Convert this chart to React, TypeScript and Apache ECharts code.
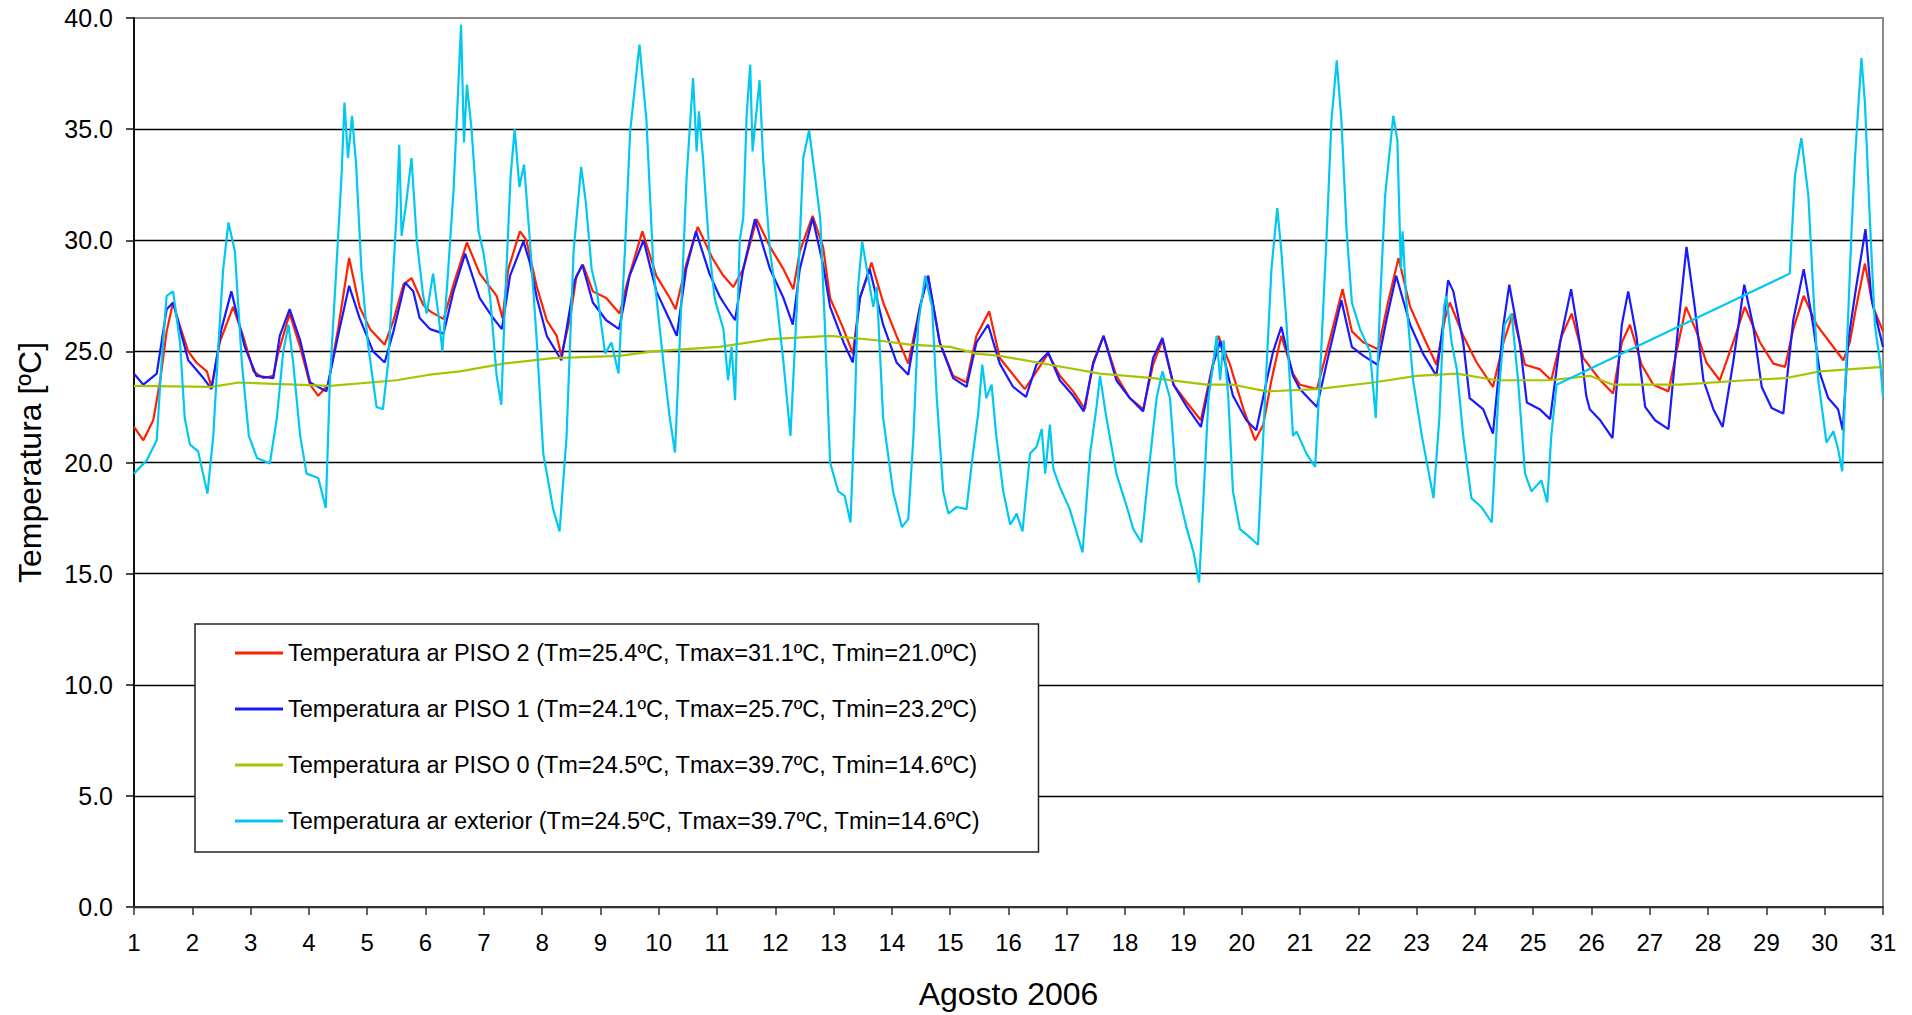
import React, { useEffect, useRef } from "react";
import * as echarts from "echarts";

// Time axis: fractional day of August 2006 (1 = 00:00 on the 1st)
const dayTicks: number[] = Array.from({ length: 31 }, (_, i) => i + 1);

const nomePiso2 = "Temperatura ar PISO 2 (Tm=25.4ºC, Tmax=31.1ºC, Tmin=21.0ºC)";
const nomePiso1 = "Temperatura ar PISO 1 (Tm=24.1ºC, Tmax=25.7ºC, Tmin=23.2ºC)";
const nomePiso0 = "Temperatura ar PISO 0 (Tm=24.5ºC, Tmax=39.7ºC, Tmin=14.6ºC)";
const nomeExterior = "Temperatura ar exterior (Tm=24.5ºC, Tmax=39.7ºC, Tmin=14.6ºC)";

// [day, ºC]
const piso2: [number, number][] = [
  [1.0, 21.6], [1.16, 21.0], [1.33, 21.9], [1.45, 23.7], [1.56, 25.9], [1.67, 27.2], [1.78, 26.2], [1.93, 25.0],
  [2.07, 24.5], [2.25, 24.1], [2.33, 23.4], [2.47, 25.4], [2.7, 27.0], [2.87, 25.7], [3.05, 24.1], [3.22, 23.8],
  [3.39, 23.9], [3.47, 24.9], [3.67, 26.7], [3.85, 25.2], [4.02, 23.5], [4.16, 23.0], [4.33, 23.5], [4.5, 26.0],
  [4.69, 29.2], [4.87, 27.0], [5.05, 26.0], [5.3, 25.3], [5.45, 26.4], [5.62, 28.0], [5.76, 28.3], [5.96, 27.1],
  [6.08, 26.8], [6.31, 26.45], [6.48, 28.0], [6.71, 29.9], [6.93, 28.5], [7.22, 27.5], [7.32, 26.5], [7.42, 28.7],
  [7.62, 30.4], [7.73, 30.0], [7.91, 27.9], [8.08, 26.4], [8.25, 25.7], [8.33, 24.8], [8.48, 26.5], [8.59, 28.4],
  [8.7, 28.9], [8.87, 27.7], [9.1, 27.4], [9.33, 26.7], [9.45, 28.0], [9.72, 30.4], [9.96, 28.4], [10.19, 27.4],
  [10.29, 26.9], [10.47, 28.9], [10.67, 30.6], [10.92, 29.2], [11.11, 28.4], [11.28, 27.9], [11.45, 28.7],
  [11.68, 30.95], [11.91, 29.7], [12.14, 28.7], [12.31, 27.8], [12.42, 29.5], [12.64, 31.1], [12.82, 29.7],
  [12.94, 27.4], [13.17, 26.0], [13.33, 24.9], [13.45, 27.4], [13.65, 29.0], [13.85, 27.2], [14.08, 25.7],
  [14.28, 24.45], [14.48, 27.0], [14.62, 28.4], [14.82, 25.4], [15.05, 23.9], [15.28, 23.6], [15.45, 25.7],
  [15.67, 26.8], [15.85, 24.7], [16.08, 23.95], [16.28, 23.3], [16.43, 23.9], [16.68, 24.9], [16.88, 23.9],
  [17.11, 23.2], [17.31, 22.4], [17.45, 24.5], [17.63, 25.7], [17.85, 23.9], [18.08, 22.9], [18.31, 22.4],
  [18.48, 24.4], [18.64, 25.5], [18.83, 23.5], [19.06, 22.7], [19.3, 21.9], [19.51, 24.5], [19.6, 25.7],
  [19.8, 24.4], [20.03, 22.4], [20.23, 21.0], [20.37, 21.7], [20.51, 23.7], [20.68, 25.7], [20.88, 24.0],
  [21.0, 23.5], [21.29, 23.3], [21.46, 25.0], [21.73, 27.8], [21.89, 25.9], [22.09, 25.4], [22.34, 25.1],
  [22.51, 27.2], [22.69, 29.2], [22.89, 27.0], [23.11, 25.7], [23.34, 24.4], [23.49, 26.5], [23.57, 27.2],
  [23.8, 25.7], [24.03, 24.5], [24.31, 23.4], [24.49, 25.4], [24.65, 26.7], [24.86, 24.4], [25.11, 24.2],
  [25.31, 23.7], [25.49, 25.7], [25.66, 26.7], [25.86, 24.7], [26.15, 23.7], [26.37, 23.1], [26.52, 25.4],
  [26.66, 26.2], [26.86, 24.4], [27.06, 23.5], [27.32, 23.2], [27.46, 25.0], [27.62, 27.0], [27.8, 25.9],
  [27.97, 24.5], [28.2, 23.7], [28.43, 25.4], [28.63, 27.0], [28.89, 25.4], [29.12, 24.45], [29.32, 24.3],
  [29.46, 26.0], [29.64, 27.5], [29.86, 26.2], [30.09, 25.4], [30.32, 24.6], [30.43, 25.4], [30.54, 27.0],
  [30.69, 28.95], [30.83, 27.0], [31.0, 25.9],
];

const piso1: [number, number][] = [
  [1.0, 24.0], [1.16, 23.5], [1.39, 24.0], [1.56, 26.9], [1.67, 27.2], [1.93, 24.6], [2.19, 23.8], [2.33, 23.3],
  [2.5, 26.0], [2.67, 27.7], [2.9, 25.2], [3.1, 23.9], [3.39, 23.8], [3.5, 25.7], [3.67, 26.9], [3.85, 25.5],
  [4.02, 23.6], [4.3, 23.2], [4.5, 25.7], [4.69, 27.95], [4.87, 26.5], [5.1, 25.0], [5.3, 24.5], [5.45, 25.9],
  [5.65, 28.1], [5.79, 27.7], [5.9, 26.5], [6.08, 26.0], [6.31, 25.8], [6.48, 27.7], [6.68, 29.4], [6.93, 27.4],
  [7.16, 26.5], [7.31, 26.0], [7.45, 28.4], [7.68, 29.95], [7.79, 29.0], [7.91, 27.4], [8.08, 25.7], [8.33, 24.6],
  [8.56, 28.2], [8.69, 28.9], [8.87, 27.2], [9.1, 26.4], [9.32, 26.0], [9.5, 28.4], [9.74, 30.0], [9.96, 27.7],
  [10.19, 26.4], [10.31, 25.7], [10.47, 28.7], [10.64, 30.4], [10.87, 28.5], [11.04, 27.5], [11.11, 27.2],
  [11.31, 26.4], [11.45, 28.7], [11.65, 30.95], [11.91, 28.7], [12.14, 27.4], [12.3, 26.2], [12.42, 28.7],
  [12.64, 31.0], [12.82, 28.9], [12.94, 27.0], [13.17, 25.4], [13.33, 24.5], [13.45, 27.4], [13.62, 28.7],
  [13.85, 26.2], [14.08, 24.5], [14.28, 23.95], [14.48, 27.0], [14.62, 28.4], [14.82, 25.4], [15.05, 23.8],
  [15.28, 23.4], [15.45, 25.4], [15.65, 26.2], [15.85, 24.45], [16.08, 23.4], [16.3, 22.95], [16.48, 24.4],
  [16.68, 24.95], [16.88, 23.7], [17.11, 23.0], [17.29, 22.3], [17.45, 24.4], [17.63, 25.7], [17.85, 23.7],
  [18.08, 22.9], [18.31, 22.3], [18.48, 24.7], [18.64, 25.6], [18.83, 23.5], [19.06, 22.5], [19.3, 21.6],
  [19.51, 24.4], [19.63, 25.45], [19.85, 23.0], [20.08, 21.9], [20.25, 21.45], [20.43, 23.7], [20.54, 25.0],
  [20.68, 26.1], [20.88, 23.9], [21.0, 23.3], [21.29, 22.5], [21.46, 24.5], [21.71, 27.3], [21.89, 25.2],
  [22.09, 24.8], [22.33, 24.4], [22.49, 26.5], [22.65, 28.4], [22.89, 26.2], [23.11, 24.9], [23.34, 23.9],
  [23.49, 27.0], [23.54, 28.2], [23.63, 27.7], [23.8, 25.4], [23.91, 22.9], [24.14, 22.4], [24.31, 21.3],
  [24.49, 26.2], [24.59, 28.0], [24.77, 25.4], [24.89, 22.7], [25.11, 22.4], [25.29, 21.95], [25.46, 25.4],
  [25.65, 27.8], [25.8, 25.4], [25.91, 23.0], [25.97, 22.4], [26.15, 21.9], [26.36, 21.1], [26.52, 26.2],
  [26.63, 27.7], [26.77, 25.7], [26.92, 22.5], [27.09, 21.9], [27.32, 21.5], [27.49, 26.2], [27.63, 29.7],
  [27.77, 27.0], [27.92, 23.7], [28.09, 22.4], [28.25, 21.6], [28.43, 24.5], [28.62, 28.0], [28.77, 26.2],
  [28.92, 23.4], [29.09, 22.45], [29.29, 22.2], [29.46, 26.4], [29.64, 28.7], [29.8, 26.2], [29.92, 24.0],
  [30.06, 22.9], [30.23, 22.4], [30.31, 21.45], [30.4, 25.4], [30.54, 27.9], [30.7, 30.5], [30.8, 27.4],
  [31.0, 25.2],
];

const piso0: [number, number][] = [
  [1.0, 23.45], [2.33, 23.4], [2.8, 23.6], [4.36, 23.45], [5.5, 23.7], [6.07, 23.95], [6.59, 24.1], [7.34, 24.45],
  [8.19, 24.7], [9.33, 24.8], [9.9, 25.0], [11.04, 25.2], [11.91, 25.55], [12.94, 25.7], [13.74, 25.5],
  [14.31, 25.3], [15.0, 25.2], [15.45, 24.9], [15.85, 24.8], [16.71, 24.4], [17.57, 24.0], [18.48, 23.8],
  [19.4, 23.5], [19.85, 23.5], [20.43, 23.2], [21.29, 23.3], [22.26, 23.6], [23.0, 23.9], [23.69, 24.0],
  [24.37, 23.7], [25.29, 23.7], [25.97, 23.9], [26.37, 23.5], [27.52, 23.5], [28.66, 23.7], [29.34, 23.8],
  [29.92, 24.1], [31.0, 24.3],
];

const exterior: [number, number][] = [
  [1.0, 19.5], [1.22, 20.1], [1.39, 21.0], [1.47, 24.4], [1.56, 27.5], [1.67, 27.7], [1.79, 25.4], [1.87, 22.0],
  [1.96, 20.8], [2.1, 20.5], [2.26, 18.6], [2.36, 21.2], [2.45, 25.4], [2.53, 28.7], [2.62, 30.8], [2.73, 29.5],
  [2.85, 24.5], [2.97, 21.2], [3.11, 20.2], [3.33, 19.95], [3.45, 22.0], [3.56, 25.0], [3.65, 26.2], [3.73, 24.5],
  [3.85, 21.2], [3.96, 19.5], [4.16, 19.3], [4.29, 17.95], [4.36, 23.7], [4.47, 28.7], [4.56, 32.9], [4.61, 36.2],
  [4.67, 33.7], [4.74, 35.6], [4.81, 33.4], [4.9, 28.7], [5.01, 25.4], [5.16, 22.5], [5.27, 22.4], [5.36, 24.5],
  [5.45, 28.7], [5.5, 31.0], [5.55, 34.3], [5.59, 30.2], [5.67, 31.7], [5.76, 33.7], [5.85, 30.0], [5.96, 27.5],
  [6.02, 26.7], [6.13, 28.5], [6.22, 26.7], [6.29, 25.0], [6.39, 28.7], [6.48, 32.2], [6.55, 36.2], [6.61, 39.7],
  [6.66, 34.4], [6.71, 37.0], [6.79, 35.0], [6.91, 30.4], [6.99, 29.5], [7.11, 27.4], [7.22, 23.9], [7.3, 22.6],
  [7.36, 27.0], [7.46, 32.9], [7.53, 35.0], [7.61, 32.4], [7.69, 33.4], [7.79, 30.0], [7.91, 25.4], [8.02, 20.4],
  [8.19, 17.9], [8.3, 16.9], [8.42, 21.2], [8.54, 29.5], [8.67, 33.3], [8.75, 31.7], [8.85, 28.7], [8.94, 27.7],
  [9.08, 24.9], [9.19, 25.4], [9.31, 24.0], [9.42, 29.5], [9.51, 34.9], [9.67, 38.8], [9.79, 35.4], [9.91, 28.7],
  [10.08, 24.5], [10.19, 22.0], [10.28, 20.45], [10.36, 25.4], [10.48, 32.9], [10.59, 37.3], [10.65, 34.0],
  [10.69, 35.8], [10.76, 33.7], [10.87, 29.5], [10.96, 27.4], [11.0, 27.0], [11.11, 26.0], [11.19, 23.7],
  [11.25, 25.2], [11.31, 22.8], [11.39, 30.0], [11.45, 31.0], [11.51, 35.7], [11.57, 37.9], [11.61, 34.0],
  [11.73, 37.2], [11.79, 33.7], [11.91, 29.5], [12.02, 27.4], [12.14, 24.5], [12.26, 21.2], [12.37, 27.0],
  [12.48, 33.7], [12.58, 34.95], [12.68, 32.9], [12.77, 31.0], [12.85, 26.2], [12.94, 20.0], [13.08, 18.7],
  [13.19, 18.5], [13.29, 17.3], [13.37, 22.9], [13.42, 27.9], [13.49, 29.95], [13.57, 28.7], [13.68, 27.0],
  [13.74, 27.9], [13.85, 22.0], [14.02, 18.7], [14.17, 17.1], [14.28, 17.45], [14.37, 21.2], [14.45, 26.2],
  [14.57, 28.4], [14.69, 27.0], [14.77, 22.9], [14.88, 18.7], [14.97, 17.7], [15.11, 18.0], [15.28, 17.9],
  [15.39, 20.4], [15.48, 22.2], [15.55, 24.4], [15.62, 22.9], [15.71, 23.5], [15.79, 21.2], [15.91, 18.7],
  [16.03, 17.2], [16.14, 17.7], [16.24, 16.9], [16.37, 20.4], [16.48, 20.7], [16.57, 21.5], [16.63, 19.5],
  [16.71, 21.7], [16.77, 19.7], [16.88, 18.9], [17.05, 17.9], [17.27, 15.95], [17.4, 20.4], [17.51, 22.5],
  [17.57, 23.9], [17.68, 22.0], [17.85, 19.5], [18.03, 18.0], [18.14, 17.0], [18.28, 16.4], [18.4, 19.5],
  [18.54, 22.9], [18.64, 24.1], [18.77, 22.9], [18.88, 19.0], [19.06, 17.0], [19.17, 16.0], [19.27, 14.6],
  [19.35, 18.7], [19.43, 22.9], [19.51, 24.4], [19.57, 25.7], [19.63, 23.7], [19.69, 25.5], [19.77, 22.9],
  [19.85, 18.7], [19.97, 17.0], [20.11, 16.7], [20.28, 16.3], [20.37, 21.2], [20.43, 24.5], [20.51, 28.7],
  [20.61, 31.45], [20.68, 29.5], [20.77, 26.2], [20.88, 21.2], [20.94, 21.4], [21.11, 20.4], [21.26, 19.8],
  [21.34, 23.7], [21.46, 30.4], [21.54, 35.4], [21.63, 38.1], [21.71, 35.4], [21.8, 30.4], [21.89, 27.2],
  [22.03, 26.0], [22.2, 25.0], [22.3, 22.0], [22.37, 27.0], [22.46, 32.0], [22.6, 35.6], [22.67, 34.5],
  [22.73, 28.7], [22.76, 30.4], [22.82, 27.4], [22.94, 23.7], [23.09, 21.2], [23.29, 18.4], [23.39, 22.0],
  [23.47, 27.0], [23.51, 27.5], [23.6, 25.4], [23.69, 24.2], [23.8, 21.2], [23.94, 18.4], [24.11, 18.0],
  [24.29, 17.3], [24.4, 22.9], [24.51, 26.2], [24.63, 26.7], [24.74, 23.7], [24.86, 19.5], [24.97, 18.7],
  [25.14, 19.2], [25.24, 18.2], [25.31, 21.2], [25.4, 23.5], [29.4, 28.5], [29.49, 32.9], [29.6, 34.6],
  [29.72, 32.0], [29.8, 27.9], [29.89, 23.7], [30.03, 20.9], [30.15, 21.4], [30.23, 20.6], [30.3, 19.6],
  [30.37, 24.5], [30.46, 30.4], [30.52, 33.7], [30.63, 38.2], [30.69, 36.2], [30.77, 31.2], [30.86, 26.2],
  [30.95, 24.5], [31.0, 23.0],
];

const FONT = "'Liberation Sans', Arial, sans-serif";

function lineSeries(name: string, data: [number, number][], color: string, width: number) {
  return {
    name,
    type: "line",
    data,
    showSymbol: false,
    symbol: "none",
    smooth: false,
    lineStyle: { color, width },
    itemStyle: { color },
  };
}

export default function App() {
  const ref = useRef<HTMLDivElement>(null);

  useEffect(() => {
    if (!ref.current) return;
    const chart = echarts.init(ref.current, null, { renderer: "svg" });
    chart.setOption({
      animation: false,
      backgroundColor: "#ffffff",
      textStyle: { fontFamily: FONT },
      grid: {
        left: 134,
        top: 18,
        right: 29,
        bottom: 108,
        show: true,
        borderColor: "#8a8a8a",
        borderWidth: 2,
        backgroundColor: "transparent",
      },
      xAxis: {
        type: "value",
        min: 1,
        max: 31,
        interval: 1,
        name: "Agosto 2006",
        nameLocation: "middle",
        nameGap: 71,
        nameTextStyle: { fontSize: 32, color: "#000", fontFamily: FONT },
        axisLine: { show: true, onZero: false, lineStyle: { color: "#333", width: 2 } },
        axisTick: { show: true, length: 8, lineStyle: { color: "#333", width: 1.5 } },
        axisLabel: {
          fontSize: 24,
          color: "#000",
          margin: 23,
          fontFamily: FONT,
          formatter: (v: number) => (dayTicks.includes(v) ? String(v) : ""),
        },
        splitLine: { show: false },
      },
      yAxis: {
        type: "value",
        min: 0,
        max: 40,
        interval: 5,
        name: "Temperatura [ºC]",
        nameLocation: "middle",
        nameGap: 88,
        nameTextStyle: { fontSize: 32, color: "#000", fontFamily: FONT },
        axisLine: { show: true, lineStyle: { color: "#111", width: 2 } },
        axisTick: { show: true, length: 8, lineStyle: { color: "#111", width: 1.5 } },
        axisLabel: {
          fontSize: 25,
          color: "#000",
          margin: 21,
          fontFamily: FONT,
          formatter: (v: number) => v.toFixed(1),
        },
        splitLine: { show: true, showMaxLine: false, lineStyle: { color: "#000", width: 1.3 } },
      },
      legend: {
        left: 195,
        top: 624,
        orient: "vertical",
        icon: "rect",
        itemWidth: 48,
        itemHeight: 3,
        itemGap: 30,
        padding: [16, 58, 18, 40],
        backgroundColor: "#ffffff",
        borderColor: "#222",
        borderWidth: 1.5,
        textStyle: { fontSize: 23.5, color: "#000", lineHeight: 26, fontFamily: FONT },
        data: [nomePiso2, nomePiso1, nomePiso0, nomeExterior],
      },
      series: [
        lineSeries(nomePiso2, piso2, "#ff2200", 2.2),
        lineSeries(nomePiso1, piso1, "#1a1aff", 2.2),
        lineSeries(nomePiso0, piso0, "#a8c400", 2.2),
        lineSeries(nomeExterior, exterior, "#00c8f0", 2.2),
      ],
    });
    return () => chart.dispose();
  }, []);

  return (
    <div
      ref={ref}
      style={{ position: "fixed", left: 0, top: 0, width: 1912, height: 1015, background: "#fff" }}
    />
  );
}
